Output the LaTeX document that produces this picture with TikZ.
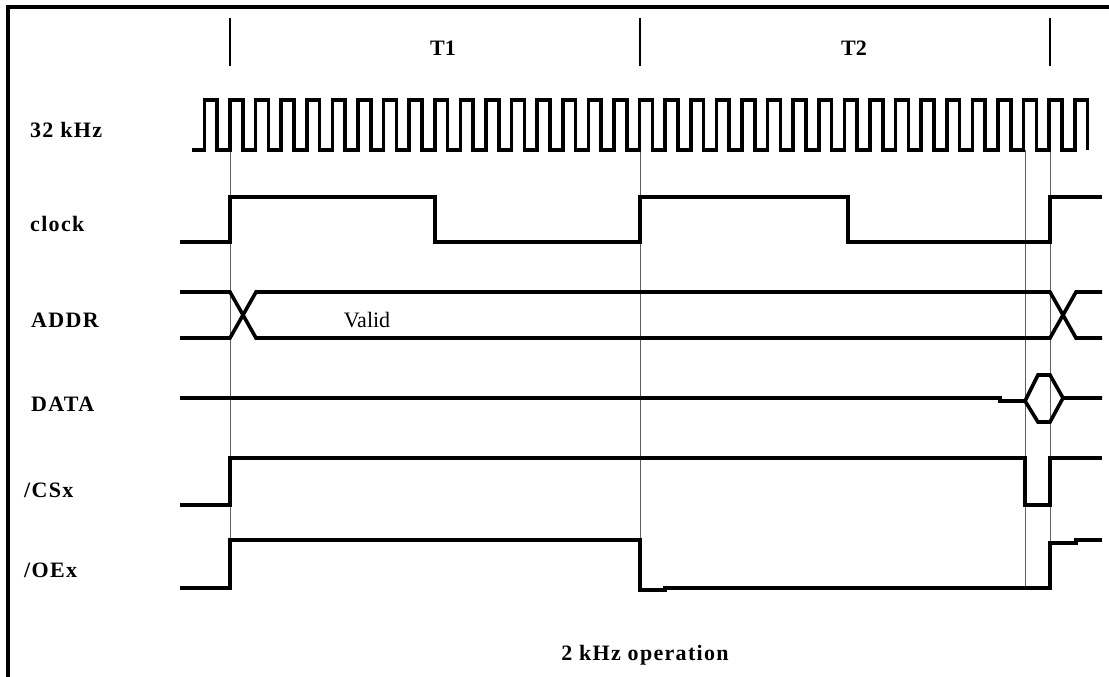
\documentclass[tikz,border=0pt]{standalone}
\usepackage{fontspec}
\setmainfont{Liberation Serif}
\newfontfamily\sigfont[LetterSpace=6]{Liberation Serif}
\usepackage{tikz}
\usetikzlibrary{calc,positioning}
\definecolor{waveBlack}{RGB}{0,0,0}
\definecolor{guideGray}{RGB}{95,95,95}

\begin{document}
\begin{tikzpicture}[x=1pt, y=-1pt,
  sig/.style={waveBlack, line width=3.6pt, line join=miter},
  guide/.style={guideGray, line width=1pt},
  tickmark/.style={waveBlack, line width=2.4pt},
  lbl/.style={anchor=west, inner sep=0pt, font=\fontsize{22}{26}\selectfont\sigfont\bfseries}]
\useasboundingbox (0,0) rectangle (1109,677);
% frame
\draw[waveBlack, line width=3.4pt] (8,677) -- (8,7) -- (1109,7);
% period marks
\foreach \x in {230,640,1050}
{
\draw[tickmark] (\x,18) -- (\x,66);
}
\node (t1) at (443,48) {\fontsize{22}{26}\selectfont\bfseries T1};
\node (t2) at (854,48) {\fontsize{22}{26}\selectfont\bfseries T2};
% guide lines
\draw[guide] (230,150) -- (230,588);
\draw[guide] (640,150) -- (640,540);
\draw[guide] (1025,150) -- (1025,588);
\draw[guide] (1050,150) -- (1050,588);
% signal names
\node[lbl] (khz) at (30,130) {32 kHz};
\node[lbl] (clk) at (30,224) {clock};
\node[lbl] (addr) at (31,320) {ADDR};
\node[lbl] (data) at (31,404) {DATA};
\node[lbl] (csx) at (24,490) {/CSx};
\node[lbl] (oex) at (24,570) {/OEx};
% 32 kHz
\draw[sig] (192,150) -- (204.4,150)
  \foreach \k in {1,...,34} { -- ++(0,-50) -- ++(12.8,0) -- ++(0,50) -- ++(12.8,0) }
  -- ++(0,-50) -- ++(12.8,0) -- ++(0,50);
% clock
\draw[sig] (180,242) -- (230,242) -- (230,197) -- (435,197) -- (435,242) -- (640,242) -- (640,197) -- (848,197) -- (848,242) -- (1050,242) -- (1050,197) -- (1102,197);
% ADDR
\draw[sig] (180,292) -- (230,292) -- (256,338) -- (1050,338) -- (1076,292) -- (1102,292);
\draw[sig] (180,338) -- (230,338) -- (256,292) -- (1050,292) -- (1076,338) -- (1102,338);
\node (valid) at (367,320) {\fontsize{22}{26}\selectfont Valid};
% DATA
\draw[sig] (180,398) -- (1000,398) -- (1000,401) -- (1025,401) -- (1038,375) -- (1050,375) -- (1063,398) -- (1102,398);
\draw[sig] (1025,401) -- (1038,422) -- (1050,422) -- (1063,398);
% /CSx
\draw[sig] (180,505) -- (230,505) -- (230,458) -- (1025,458) -- (1025,505) -- (1050,505) -- (1050,458) -- (1102,458);
% /OEx
\draw[sig] (180,588) -- (230,588) -- (230,540) -- (640,540) -- (640,590) -- (665,590) -- (665,588) -- (1050,588) -- (1050,543) -- (1076,543) -- (1076,540) -- (1102,540);
\node (op) at (645,655) {\fontsize{22}{26}\selectfont\sigfont\bfseries 2 kHz operation};
\end{tikzpicture}
\end{document}
